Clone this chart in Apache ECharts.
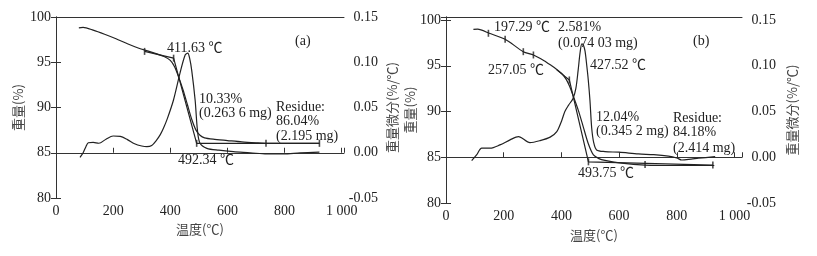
<!DOCTYPE html>
<html><head><meta charset="utf-8">
<script src="https://cdn.jsdelivr.net/npm/echarts@6/dist/echarts.min.js"></script>
<style>html,body{margin:0;padding:0;background:#fff}#c{width:817px;height:256px}</style>
</head><body><div id="c"></div>
<script>
// ---- tick labels ----
const xTicks = [0, 200, 400, 600, 800, 1000];
const xTickLabels = ['0', '200', '400', '600', '800', '1 000'];
const massTicks = [80, 85, 90, 95, 100];
const dtgTicks = [-0.05, 0, 0.05, 0.10, 0.15];
const dtgTickLabels = ['-0.05', '0.00', '0.05', '0.10', '0.15'];

// ---- panel (a) ----
const aTgT = [80, 95, 130, 170, 210, 250, 290, 320, 350, 380, 400, 415, 430, 445, 460, 475, 490, 505, 520, 550, 600, 650, 700, 740, 800, 860, 922];
const aTgM = [98.8, 98.85, 98.55, 98.1, 97.6, 97.05, 96.55, 96.25, 95.95, 95.6, 95.2, 94.5, 93.3, 91.9, 90.3, 88.7, 87.5, 86.9, 86.65, 86.5, 86.35, 86.2, 86.1, 86.04, 86.04, 86.04, 86.04];
const aStepT = [310, 411.63, 492.34, 922];
const aStepM = [96.2, 95.45, 86.04, 86.04];
const aDtgT = [84, 95, 105, 113, 130, 150, 175, 200, 225, 250, 275, 300, 318, 335, 352, 365, 376, 390, 411, 434, 452, 461, 468, 475, 487, 495, 504, 528, 570, 621, 680, 738, 796, 855, 922];
const aDtgD = [-0.005, 0.0, 0.007, 0.011, 0.0115, 0.0105, 0.015, 0.0185, 0.018, 0.0145, 0.010, 0.0075, 0.0067, 0.008, 0.014, 0.020, 0.027, 0.038, 0.058, 0.088, 0.108, 0.110, 0.104, 0.091, 0.058, 0.025, 0.0104, 0.0049, 0.0028, 0.0012, 0.0, -0.0014, -0.0014, 0.0, 0.0008];
const aMarkT = [310, 411.63, 492.34, 922, 735];
const aMarkM = [96.2, 95.45, 86.04, 86.04, 86.04];

// ---- panel (b) ----
const bTgT = [95, 110, 150, 205, 268, 303, 340, 366, 384, 401, 415, 428, 441, 459, 476, 493, 511, 530, 551, 609, 690, 800, 930];
const bTgM = [98.98, 99.0, 98.55, 97.9, 96.54, 96.18, 95.55, 95.0, 94.6, 94.15, 93.6, 92.8, 91.7, 90.1, 88.3, 86.5, 85.25, 84.85, 84.65, 84.35, 84.15, 84.1, 84.1];
const bStepT = [384, 427.52, 493.75, 925];
const bStepM = [94.55, 93.45, 84.5, 84.15];
const bDtgT = [89, 106, 124, 153, 187, 222, 251, 291, 326, 361, 384, 401, 412, 425, 440, 450, 458, 465, 471, 477, 482, 488, 493, 499, 505, 512, 522, 551, 600, 667, 720, 771, 800, 817, 850, 875, 933];
const bDtgD = [-0.0037, 0.0025, 0.0099, 0.0099, 0.0135, 0.019, 0.0226, 0.016, 0.0182, 0.022, 0.028, 0.040, 0.050, 0.057, 0.064, 0.075, 0.095, 0.115, 0.124, 0.122, 0.116, 0.100, 0.085, 0.062, 0.032, 0.016, 0.008, 0.0062, 0.0055, 0.0036, 0.0028, 0.0012, -0.0008, -0.003, -0.002, -0.0011, 0.0007];
const bMarkT = [147, 205, 268, 303, 427.52, 493.75, 925, 690];
const bMarkM = [98.55, 97.9, 96.54, 96.18, 93.45, 84.5, 84.15, 84.2];

// ---- annotations ----
const aNotes = ['411.63 ℃', '(a)', '10.33%', '(0.263 6 mg)', 'Residue:', '86.04%', '(2.195 mg)', '492.34 ℃'];
const bNotes = ['197.29 ℃', '2.581%', '(0.074 03 mg)', '(b)', '257.05 ℃', '427.52 ℃', '12.04%', '(0.345 2 mg)', 'Residue:', '84.18%', '(2.414 mg)', '493.75 ℃'];
const aNotePos = [[167,48],[295,41],[199,99],[199,113],[276,107],[276,121],[276,136],[178,160]];
const bNotePos = [[494,27],[558,27],[558,43],[693,41],[488,70],[590,65],[596,117],[596,131],[673,118],[673,132],[673,148],[578,173]];

const FONT = '"Liberation Serif", "Noto Sans CJK SC", serif';
const CJK = '"Noto Sans CJK SC", "Liberation Serif", sans-serif';
const INK = '#222';
const zip = (xs, ys) => xs.map((x, i) => [x, ys[i]]);

function near(v, arr){ for (let i=0;i<arr.length;i++) if (Math.abs(v-arr[i])<1e-6) return i; return -1; }

function panelAxes(g, xmax, mmax, dmax, gaps){
  const axLine = {show:true, lineStyle:{color:'#333', width:1}};
  const tick = {show:true, inside:true, length:5, lineStyle:{color:'#333'}};
  const lbl = {fontFamily:FONT, fontSize:14, color:INK};
  const xs = [
    {gridIndex:g, type:'value', position:'bottom', min:0, max:xmax, interval:200,
     axisLine:axLine, axisTick:tick, splitLine:{show:false},
     axisLabel:Object.assign({margin:6, showMaxLabel:true, formatter:v=>{const i=near(v,xTicks);return i<0?'':xTickLabels[i];}}, lbl),
     name:'温度(℃)', nameLocation:'middle', nameGap:gaps.x,
     nameTextStyle:{fontFamily:CJK, fontSize:13, color:'#444'}},
    {gridIndex:g, type:'value', position:'top', min:0, max:xmax, interval:200,
     axisLine:axLine, axisTick:{show:false}, axisLabel:{show:false}, splitLine:{show:false}}
  ];
  const ys = [
    {gridIndex:g, type:'value', position:'left', min:80, max:mmax, interval:5,
     axisLine:axLine, axisTick:tick, splitLine:{show:false},
     axisLabel:Object.assign({margin:5, formatter:v=>{const i=near(v,massTicks);return i<0?'':String(massTicks[i]);}}, lbl),
     name:'重量(%)', nameLocation:'middle', nameGap:gaps.l, nameRotate:90,
     nameTextStyle:{fontFamily:CJK, fontSize:13, color:'#444'}},
    {gridIndex:g, type:'value', position:'right', min:-0.05, max:dmax, interval:0.05,
     axisLine:axLine, axisTick:tick, splitLine:{show:false},
     axisLabel:Object.assign({margin:34, align:'right', formatter:v=>{const i=near(v,dtgTicks);return i<0?'':dtgTickLabels[i];}}, lbl),
     name:'重量微分(%/℃)', nameLocation:'middle', nameGap:gaps.r, nameRotate:90,
     nameTextStyle:{fontFamily:CJK, fontSize:13, color:'#444'}}
  ];
  return {xs, ys};
}

const pa = panelAxes(0, 1008, 100, 0.15, {x:24, l:31, r:42});
const pb = panelAxes(1, 1026, 100.33, 0.1533, {x:26, l:25, r:44});

const lineStyle = {color:INK, width:1.2};
function line(xi, yi, data, smooth){
  return {type:'line', xAxisIndex:xi, yAxisIndex:yi, data, smooth, symbol:'none',
          lineStyle, silent:true, animation:false, z:3};
}
function marks(xi, yi, data){
  return {type:'scatter', xAxisIndex:xi, yAxisIndex:yi, data, symbol:'rect', symbolSize:[1.6,7],
          itemStyle:{color:INK}, silent:true, animation:false, z:4};
}

const notes = [];
aNotes.forEach((t,i)=>notes.push({type:'text', x:aNotePos[i][0], y:aNotePos[i][1], style:{text:t, font:'14px '+FONT, fill:INK, verticalAlign:'middle', textVerticalAlign:'middle'}}));
bNotes.forEach((t,i)=>notes.push({type:'text', x:bNotePos[i][0], y:bNotePos[i][1], style:{text:t, font:'14px '+FONT, fill:INK, verticalAlign:'middle', textVerticalAlign:'middle'}}));

const chart = echarts.init(document.getElementById('c'), null, {renderer:'canvas'});
chart.setOption({
  animation:false,
  backgroundColor:'#fff',
  grid:[{left:56, top:17, width:288, height:181}, {left:446, top:17, width:296, height:186}],
  xAxis:[...pa.xs, ...pb.xs],
  yAxis:[...pa.ys, ...pb.ys],
  series:[
    line(0,0, zip(aTgT,aTgM), 0.25),
    line(0,0, zip(aStepT,aStepM), false),
    line(0,1, zip(aDtgT,aDtgD), 0.3),
    marks(0,0, zip(aMarkT,aMarkM)),
    line(2,2, zip(bTgT,bTgM), 0.25),
    line(2,2, zip(bStepT,bStepM), false),
    line(2,3, zip(bDtgT,bDtgD), 0.3),
    marks(2,2, zip(bMarkT,bMarkM))
  ],
  graphic: notes
});
</script></body></html>
